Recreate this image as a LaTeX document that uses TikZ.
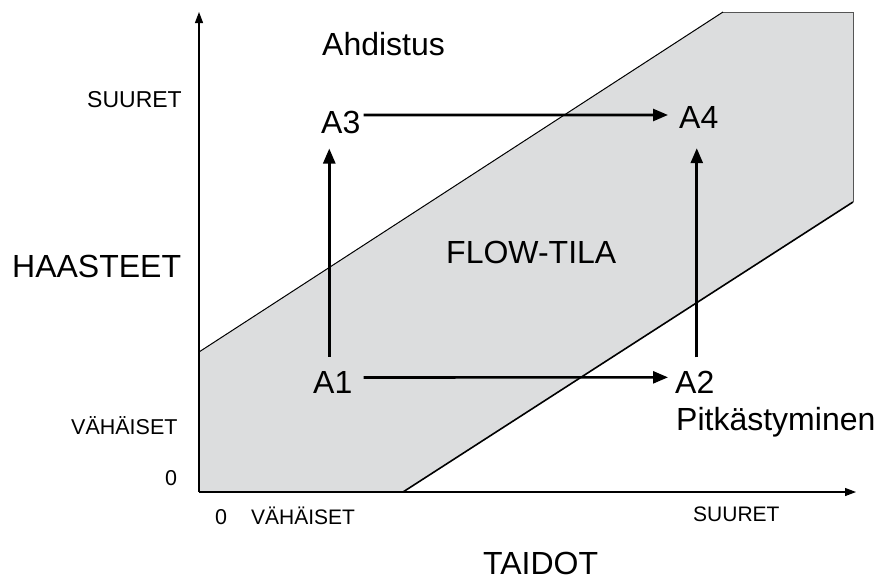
\documentclass[tikz,border=0pt]{standalone}
\usepackage{fontspec}
\setmainfont{Liberation Sans}
\usetikzlibrary{arrows.meta}
\definecolor{flowgray}{RGB}{220,221,222}
\definecolor{edgegray}{RGB}{85,85,85}
\begin{document}
\begin{tikzpicture}[x=1pt,y=-1pt,
  big/.style={anchor=base west, inner sep=0pt, font=\fontsize{32}{38}\selectfont},
  small/.style={anchor=base west, inner sep=0pt, font=\fontsize{21.5}{26}\selectfont},
  axisline/.style={line width=1.2pt, -{Triangle[length=11pt,width=8pt]}},
  move/.style={line width=2.6pt, -{Triangle[length=15pt,width=12pt]}}]
\useasboundingbox (0,0) rectangle (877,581);
% flow channel
\fill[flowgray] (199,352) -- (723,12) -- (853,12) -- (853,202) -- (403,492) -- (199,492) -- cycle;
\draw[edgegray, line width=1pt] (723,12) -- (853,12) -- (853,202);
\draw[line width=1pt] (199,352) -- (723,12);
\draw[line width=1.6pt] (853,202) -- (403,492);
% axes
\coordinate (O) at (199,492);
\coordinate (ytop) at (199,12);
\coordinate (xend) at (856,492);
\draw[axisline] (O) -- (ytop);
\draw[axisline] (O) -- (xend);
% nodes
\node[big] (A3) at (321,133) {A3};
\node[big] (A4) at (679,128) {A4};
\node[big] (A1) at (313,393) {A1};
\node[big] (A2) at (675,393) {A2};
\node[big] (ahd) at (322,55) {Ahdistus};
\node[big] (pit) at (676,430) {Pitkästyminen};
\node[big] (flow) at (446,263) {FLOW-TILA};
\node[big] (haa) at (12,277) {HAASTEET};
\node[big] (tai) at (483,574) {TAIDOT};
\node[small, font=\fontsize{23}{27}\selectfont] (ysuu) at (87,107) {SUURET};
\node[small] (yvah) at (71,434) {VÄHÄISET};
\node[small] (y0) at (165,485) {0};
\node[small] (x0) at (215,524) {0};
\node[small, font=\fontsize{21}{25}\selectfont] (xvah) at (251,524) {VÄHÄISET};
\node[small, font=\fontsize{21}{25}\selectfont] (xsuu) at (693,521) {SUURET};
% transitions
\draw[move] ([xshift=3pt,yshift=7pt]A3.east) -- ([xshift=-11pt,yshift=2pt]A4.west);
\draw[move] ([xshift=11pt,yshift=4.5pt]A1.east) -- ([xshift=-7pt,yshift=4.5pt]A2.west);
\draw[move] ([xshift=-3.5pt,yshift=14pt]A1.north) -- ([xshift=-11.5pt,yshift=-15pt]A3.south);
\draw[move] ([xshift=2pt,yshift=13pt]A2.north) -- ([xshift=-2pt,yshift=-20pt]A4.south);
\end{tikzpicture}
\end{document}
